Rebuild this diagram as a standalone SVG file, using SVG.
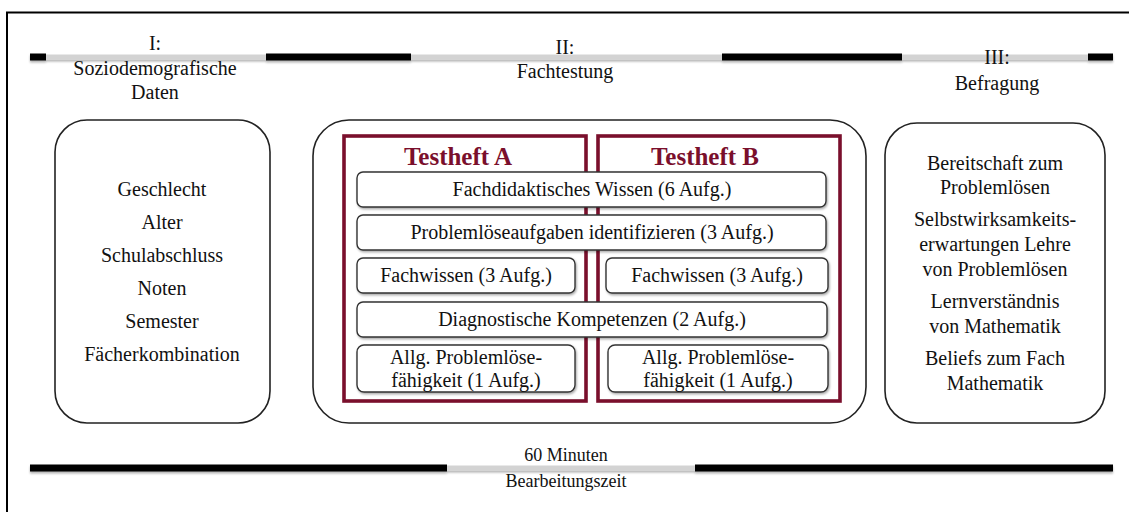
<svg xmlns="http://www.w3.org/2000/svg" width="1129" height="512" viewBox="0 0 1129 512">
<defs>
<filter id="sh" x="-5%" y="-5%" width="110%" height="120%">
<feDropShadow dx="1" dy="1.5" stdDeviation="1" flood-color="#000" flood-opacity="0.35"/>
</filter>
<filter id="lsh" filterUnits="userSpaceOnUse" x="0" y="0" width="1129" height="512">
<feDropShadow dx="0" dy="2" stdDeviation="1.2" flood-color="#000" flood-opacity="0.3"/>
</filter>
<style>
text{fill:#111;text-anchor:middle}
.t{font-weight:bold;fill:#7a0f2c}
.outer{fill:#fff;stroke:#222;stroke-width:1.6}
.inner{fill:#fff;stroke:#333;stroke-width:1.4}
.heft{fill:none;stroke:#7a0f2c;stroke-width:3.6}
.blk{stroke:#000;stroke-width:7}
.gry{stroke:#d3d3d3;stroke-width:5}
</style>
</defs>
<rect width="1129" height="512" fill="#fff"/>
<path d="M7,512 V12.5 H1129" fill="none" stroke="#000" stroke-width="2"/>

<g id="timeline-top" filter="url(#lsh)">
<line class="gry" x1="46" y1="57" x2="266" y2="57"/>
<line class="gry" x1="410" y1="57" x2="722" y2="57"/>
<line class="gry" x1="902" y1="57" x2="1088" y2="57"/>
<line class="blk" x1="30" y1="57" x2="46" y2="57"/>
<line class="blk" x1="266" y1="57" x2="411" y2="57"/>
<line class="blk" x1="722" y1="57" x2="902" y2="57"/>
<line class="blk" x1="1088" y1="57" x2="1113" y2="57"/>
</g>

<g font-family="Liberation Serif" font-size="20">
<g id="phase1-label">
<text x="155" y="50">I:</text>
<text x="155" y="75">Soziodemografische</text>
<text x="155" y="99">Daten</text>
</g>
<g id="phase2-label">
<text x="565" y="54">II:</text>
<text x="565" y="78">Fachtestung</text>
</g>
<g id="phase3-label">
<text x="997" y="64">III:</text>
<text x="997" y="90">Befragung</text>
</g>

<g id="box-sozio">
<rect class="outer" x="55" y="120" width="215" height="303" rx="32"/>
<text x="162" y="196">Geschlecht</text>
<text x="162" y="229">Alter</text>
<text x="162" y="262">Schulabschluss</text>
<text x="162" y="295">Noten</text>
<text x="162" y="328">Semester</text>
<text x="162" y="361">Fächerkombination</text>
</g>

<g id="box-fachtestung">
<rect class="outer" x="313" y="120" width="553" height="303" rx="36"/>
</g>

<g id="testheft-a">
<rect class="heft" x="344" y="136" width="242" height="265"/>
<text class="t" x="458" y="165" font-size="25">Testheft A</text>
</g>
<g id="testheft-b">
<rect class="heft" x="598" y="136" width="242" height="265"/>
<text class="t" x="705" y="165" font-size="25">Testheft B</text>
</g>

<g id="item-fachdidaktik">
<rect class="inner" filter="url(#sh)" x="357" y="172" width="469" height="35" rx="6"/>
<text x="592" y="196">Fachdidaktisches Wissen (6 Aufg.)</text>
</g>
<g id="item-problemloese">
<rect class="inner" filter="url(#sh)" x="357" y="215" width="469" height="35" rx="6"/>
<text x="592" y="239">Problemlöseaufgaben identifizieren (3 Aufg.)</text>
</g>
<g id="item-fachwissen-a">
<rect class="inner" filter="url(#sh)" x="357" y="258" width="218" height="35" rx="6"/>
<text x="466" y="282">Fachwissen (3 Aufg.)</text>
</g>
<g id="item-fachwissen-b">
<rect class="inner" filter="url(#sh)" x="606" y="258" width="222" height="35" rx="6"/>
<text x="717" y="282">Fachwissen (3 Aufg.)</text>
</g>
<g id="item-diagnostik">
<rect class="inner" filter="url(#sh)" x="357" y="302" width="470" height="35" rx="6"/>
<text x="592" y="326">Diagnostische Kompetenzen (2 Aufg.)</text>
</g>
<g id="item-allg-a">
<rect class="inner" filter="url(#sh)" x="357" y="345" width="218" height="47" rx="7"/>
<text x="466" y="364">Allg. Problemlöse-</text>
<text x="466" y="387">fähigkeit (1 Aufg.)</text>
</g>
<g id="item-allg-b">
<rect class="inner" filter="url(#sh)" x="608" y="345" width="220" height="47" rx="7"/>
<text x="718" y="364">Allg. Problemlöse-</text>
<text x="718" y="387">fähigkeit (1 Aufg.)</text>
</g>

<g id="box-befragung">
<rect class="outer" x="885" y="123" width="220" height="300" rx="32"/>
<text x="995" y="170">Bereitschaft zum</text>
<text x="995" y="194">Problemlösen</text>
<text x="995" y="226">Selbstwirksamkeits-</text>
<text x="995" y="251">erwartungen Lehre</text>
<text x="995" y="276">von Problemlösen</text>
<text x="995" y="308">Lernverständnis</text>
<text x="995" y="333">von Mathematik</text>
<text x="995" y="365">Beliefs zum Fach</text>
<text x="995" y="390">Mathematik</text>
</g>
</g>

<g id="timeline-bottom" filter="url(#lsh)">
<line class="gry" x1="447" y1="468" x2="695" y2="468"/>
<line class="blk" x1="30" y1="468" x2="447" y2="468"/>
<line class="blk" x1="695" y1="468" x2="1113" y2="468"/>
</g>
<g id="duration-label" font-family="Liberation Serif" font-size="18">
<text x="566" y="461">60 Minuten</text>
<text x="566" y="487">Bearbeitungszeit</text>
</g>
</svg>
